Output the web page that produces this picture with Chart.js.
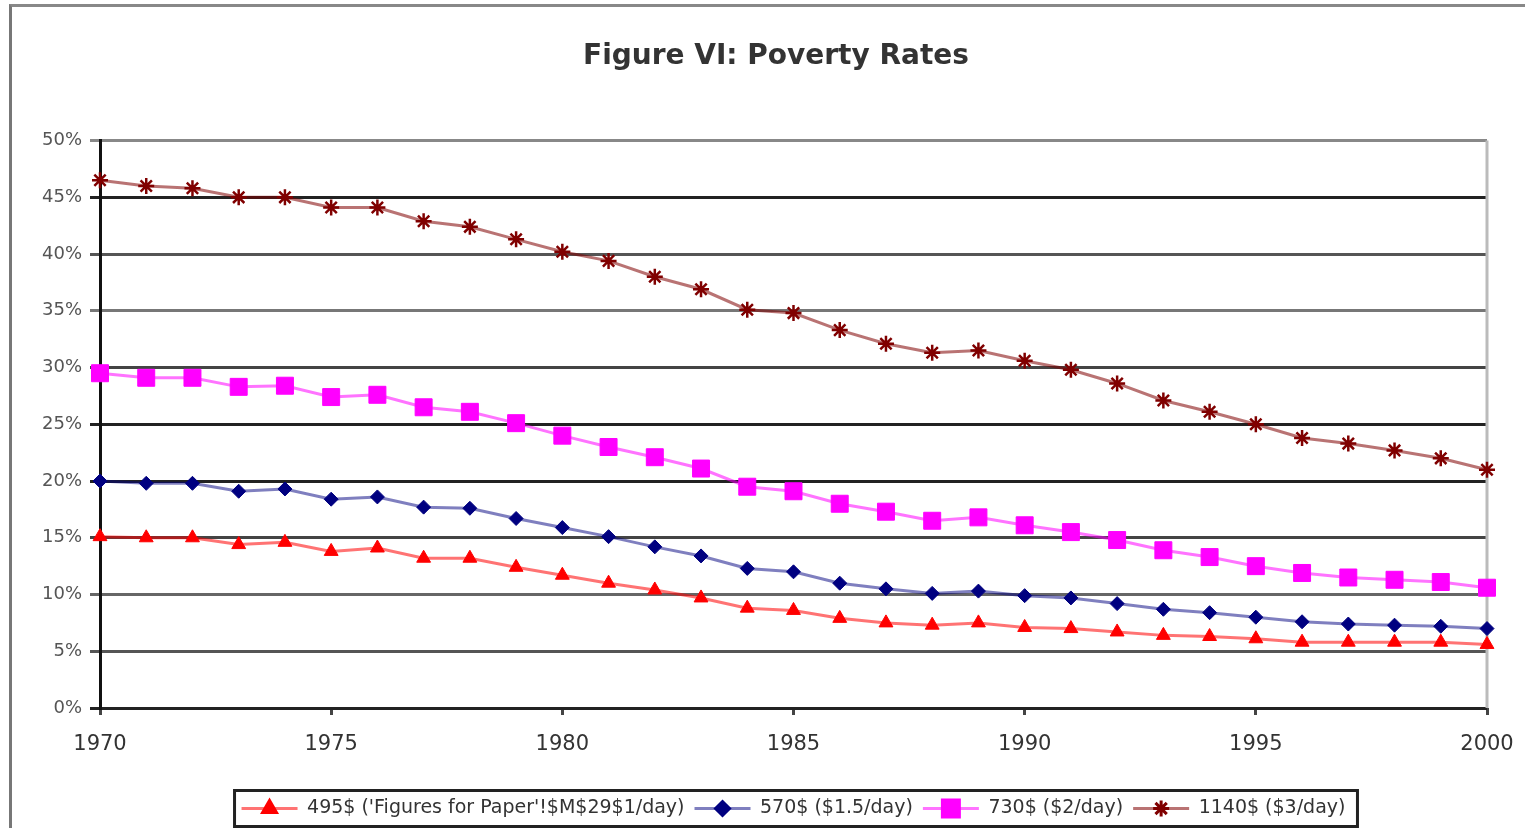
<!DOCTYPE html>
<html>
<head>
<meta charset="utf-8">
<title>Figure VI: Poverty Rates</title>
<script src="https://cdn.jsdelivr.net/npm/chart.js@4.4.1/dist/chart.umd.min.js"></script>
<style>
    html, body { margin: 0; padding: 0; background: #fff; }
    #wrap { position: relative; width: 1525px; height: 828px; overflow: hidden; }
    /* outer frame of the pasted figure */
    #frame { position: absolute; left: 9px; top: 4px; width: 1600px; height: 900px;
             border-left: 3px solid #777; border-top: 3px solid #888; }
    #chart { position: absolute; left: 0; top: 0; }
</style>
</head>
<body>
<div id="wrap">
    <div id="frame"></div>
    <canvas id="chart" width="1525" height="828"></canvas>
</div>
<script>
// Data (poverty rate, %)
const years = ['1970', '1971', '1972', '1973', '1974', '1975', '1976', '1977', '1978', '1979',
               '1980', '1981', '1982', '1983', '1984', '1985', '1986', '1987', '1988', '1989',
               '1990', '1991', '1992', '1993', '1994', '1995', '1996', '1997', '1998', '1999', '2000'];

const seriesNames = ["495$ ('Figures for Paper'!$M$29$1/day)", '570$ ($1.5/day)', '730$ ($2/day)', '1140$ ($3/day)'];

const rate1Day = [15.1, 15.0, 15.0, 14.4, 14.6, 13.8, 14.1, 13.2, 13.2, 12.4,
                  11.7, 11.0, 10.4, 9.7, 8.8, 8.6, 7.9, 7.5, 7.3, 7.5,
                  7.1, 7.0, 6.7, 6.4, 6.3, 6.1, 5.8, 5.8, 5.8, 5.8, 5.6];
const rate15Day = [20.0, 19.8, 19.8, 19.1, 19.3, 18.4, 18.6, 17.7, 17.6, 16.7,
                   15.9, 15.1, 14.2, 13.4, 12.3, 12.0, 11.0, 10.5, 10.1, 10.3,
                   9.9, 9.7, 9.2, 8.7, 8.4, 8.0, 7.6, 7.4, 7.3, 7.2, 7.0];
const rate2Day = [29.5, 29.1, 29.1, 28.3, 28.4, 27.4, 27.6, 26.5, 26.1, 25.1,
                  24.0, 23.0, 22.1, 21.1, 19.5, 19.1, 18.0, 17.3, 16.5, 16.8,
                  16.1, 15.5, 14.8, 13.9, 13.3, 12.5, 11.9, 11.5, 11.3, 11.1, 10.6];
const rate3Day = [46.5, 46.0, 45.8, 45.0, 45.0, 44.1, 44.1, 42.9, 42.4, 41.3,
                  40.2, 39.4, 38.0, 36.9, 35.1, 34.8, 33.3, 32.1, 31.3, 31.5,
                  30.6, 29.8, 28.6, 27.1, 26.1, 25.0, 23.8, 23.3, 22.7, 22.0, 21.0];

const yTicks = [0, 5, 10, 15, 20, 25, 30, 35, 40, 45, 50];

// marker and line styles per series
const styles = [
    { line: 'rgba(255, 0, 0, 0.55)',   marker: '#ff0000', shape: 'triangle', radius: 8 },
    { line: 'rgba(0, 0, 128, 0.5)',    marker: '#000080', shape: 'rectRot',  radius: 7 },
    { line: 'rgba(255, 0, 255, 0.55)', marker: '#ff00ff', shape: 'rect',     radius: 12 },
    { line: 'rgba(128, 0, 0, 0.55)',   marker: '#800000', shape: 'star',     radius: 8 }
];

// slightly different grey levels of the horizontal rules, as in the scan
const gridShade = { 0: '#222', 5: '#555', 10: '#666', 15: '#444', 20: '#222', 25: '#222',
                    30: '#444', 35: '#777', 40: '#555', 45: '#222', 50: '#888' };

const allSeries = [rate1Day, rate15Day, rate2Day, rate3Day];

const datasets = allSeries.map((values, i) => ({
    label: seriesNames[i],
    data: values,
    borderColor: styles[i].line,
    borderWidth: 3,
    backgroundColor: styles[i].marker,
    pointStyle: styles[i].shape,
    pointRadius: styles[i].radius,
    pointBackgroundColor: styles[i].marker,
    pointBorderColor: styles[i].marker,
    pointBorderWidth: styles[i].shape === 'star' ? 2.5 : 1,
    tension: 0,
    fill: false
}));

// title sits a little right of the canvas centre in the original
const titleShift = {
    id: 'titleShift',
    afterLayout(chart) {
        if (chart.titleBlock) chart.titleBlock.left = 65;
    }
};

// plot frame on the right side
const plotFrame = {
    id: 'plotFrame',
    beforeDatasetsDraw(chart) {
        const { ctx, chartArea } = chart;
        ctx.save();
        ctx.strokeStyle = '#bbb';
        ctx.lineWidth = 3;
        ctx.beginPath();
        ctx.moveTo(chartArea.right, chartArea.top);
        ctx.lineTo(chartArea.right, chartArea.bottom);
        ctx.stroke();
        ctx.restore();
    }
};

// legend keys drawn as line + marker, with a box round the legend
const legendKeys = {
    id: 'legendKeys',
    afterDraw(chart) {
        const legend = chart.legend;
        const boxes = legend.legendHitBoxes;
        if (!boxes || !boxes.length) return;
        const ctx = chart.ctx;
        const keyWidth = legend.options.labels.boxWidth;
        ctx.save();
        boxes.forEach((hb, i) => {
            const cy = hb.top + hb.height / 2;
            ctx.strokeStyle = styles[i].line;
            ctx.lineWidth = 3;
            ctx.beginPath();
            ctx.moveTo(hb.left, cy);
            ctx.lineTo(hb.left + keyWidth, cy);
            ctx.stroke();
            ctx.fillStyle = styles[i].marker;
            ctx.strokeStyle = styles[i].marker;
            Chart.helpers.drawPoint(ctx, {
                pointStyle: styles[i].shape,
                radius: styles[i].radius,
                rotation: 0,
                borderWidth: styles[i].shape === 'star' ? 2.5 : 1
            }, hb.left + keyWidth / 2, cy);
        });
        const first = boxes[0];
        const last = boxes[boxes.length - 1];
        const x0 = first.left - 7;
        const x1 = last.left + last.width + 12;
        ctx.strokeStyle = '#222';
        ctx.lineWidth = 3;
        ctx.strokeRect(x0, legend.top + 1.5, x1 - x0, legend.height - 3);
        ctx.restore();
    }
};

const ctx = document.getElementById('chart').getContext('2d');
new Chart(ctx, {
    type: 'line',
    data: { labels: years, datasets: datasets },
    plugins: [titleShift, plotFrame, legendKeys],
    options: {
        responsive: false,
        animation: false,
        layout: { padding: { left: 0, right: 38, top: 0, bottom: 0 } },
        plugins: {
            title: {
                display: true,
                text: 'Figure VI: Poverty Rates',
                color: '#333',
                font: { family: 'DejaVu Sans', size: 28, weight: 'bold' },
                padding: { top: 40, bottom: 67 }
            },
            legend: {
                display: true,
                position: 'bottom',
                fullSize: false,
                labels: {
                    color: '#333',
                    font: { family: 'DejaVu Sans', size: 19 },
                    boxWidth: 56,
                    boxHeight: 16,
                    padding: 10,
                    generateLabels(chart) {
                        const items = Chart.defaults.plugins.legend.labels.generateLabels(chart);
                        items.forEach(item => {
                            item.fillStyle = 'rgba(0,0,0,0)';
                            item.strokeStyle = 'rgba(0,0,0,0)';
                            item.lineWidth = 0;
                        });
                        return items;
                    }
                }
            },
            tooltip: { enabled: false }
        },
        scales: {
            x: {
                type: 'category',
                offset: false,
                afterFit(scale) {
                    scale.height = 81;
                    scale.paddingLeft = 0;
                    scale.paddingRight = 0;
                },
                border: { display: false },
                grid: {
                    display: true,
                    drawOnChartArea: false,
                    drawTicks: true,
                    tickLength: 7,
                    lineWidth: 3,
                    color: c => (c.index % 5 === 0 ? '#444' : 'rgba(0,0,0,0)')
                },
                ticks: {
                    autoSkip: false,
                    maxRotation: 0,
                    padding: 17,
                    color: '#333',
                    font: { family: 'DejaVu Sans', size: 21 },
                    callback(value, index) {
                        return index % 5 === 0 ? years[index] : '';
                    }
                }
            },
            y: {
                min: 0,
                max: 50,
                afterFit(scale) {
                    scale.width = 100;
                    scale.paddingTop = 0;
                    scale.paddingBottom = 0;
                },
                afterBuildTicks(scale) { scale.ticks = yTicks.map(v => ({ value: v })); },
                border: { display: true, color: '#111', width: 3 },
                grid: {
                    lineWidth: 3,
                    tickLength: 10,
                    color: c => gridShade[c.tick.value] || '#333'
                },
                ticks: {
                    padding: 8,
                    color: '#555',
                    font: { family: 'DejaVu Sans', size: 18 },
                    callback: v => v + '%'
                }
            }
        }
    }
});
</script>
</body>
</html>
